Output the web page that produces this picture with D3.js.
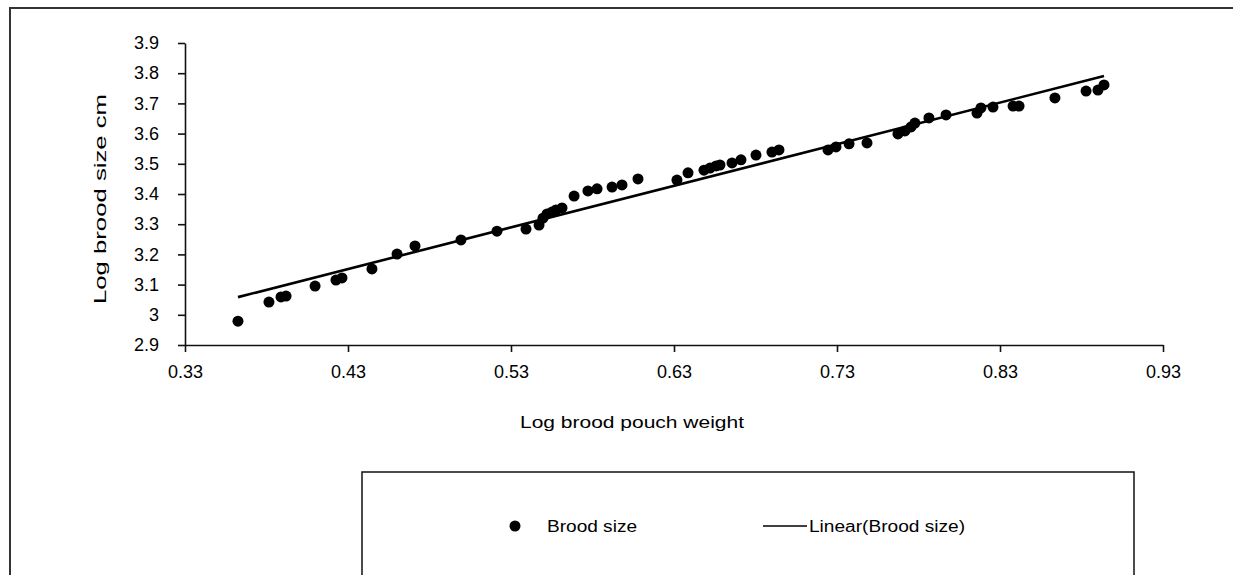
<!DOCTYPE html>
<html>
<head>
<meta charset="utf-8">
<script src="https://cdn.jsdelivr.net/npm/d3@7"></script>
<style>
  html, body { margin: 0; padding: 0; background: #fff; overflow: hidden; }
  svg { display: block; }
  text { font-family: "Liberation Sans", Arial, sans-serif; fill: #000; }
</style>
</head>
<body>
<svg id="chart" width="1233" height="575"></svg>
<script>
// ---- data ----
const xValues = [0.3625, 0.3815, 0.3889, 0.392, 0.4098, 0.4226, 0.4263, 0.4447, 0.4601, 0.4711,
  0.4993, 0.5214, 0.5392, 0.5472, 0.5496, 0.5521, 0.5551, 0.5576, 0.5613, 0.5687,
  0.5772, 0.5828, 0.592, 0.5981, 0.6079, 0.6318, 0.6386, 0.6484, 0.6521, 0.6558,
  0.6582, 0.6656, 0.6711, 0.6803, 0.6901, 0.6944, 0.7245, 0.7294, 0.7374, 0.7484,
  0.7674, 0.7717, 0.7754, 0.7778, 0.7864, 0.7969, 0.8159, 0.8183, 0.8257, 0.838,
  0.8417, 0.8637, 0.8828, 0.8901, 0.8938];
const yValues = [2.979, 3.042, 3.059, 3.062, 3.095, 3.115, 3.122, 3.152, 3.201, 3.228,
  3.248, 3.277, 3.284, 3.297, 3.320, 3.334, 3.340, 3.347, 3.354, 3.393,
  3.410, 3.417, 3.423, 3.430, 3.450, 3.446, 3.470, 3.479, 3.486, 3.493,
  3.496, 3.503, 3.513, 3.529, 3.539, 3.546, 3.546, 3.556, 3.566, 3.569,
  3.599, 3.609, 3.622, 3.635, 3.652, 3.662, 3.668, 3.685, 3.688, 3.691,
  3.691, 3.718, 3.741, 3.744, 3.761];
const trendSlope = 1.378;
const trendIntercept = 2.559;
const xTickValues = [0.33, 0.43, 0.53, 0.63, 0.73, 0.83, 0.93];
const yTickValues = [2.9, 3, 3.1, 3.2, 3.3, 3.4, 3.5, 3.6, 3.7, 3.8, 3.9];
const xTitle = "Log brood pouch weight";
const yTitle = "Log brood size cm";
const seriesName = "Brood size";
const trendName = "Linear(Brood size)";

// ---- layout ----
const svg = d3.select("#chart");
const plot = { left: 185, right: 1163, top: 43, bottom: 345 };

svg.append("rect").attr("x", 0).attr("y", 0).attr("width", 1233).attr("height", 575).attr("fill", "#fff");
// outer chart frame: only left and top edges are inside the picture
svg.append("path").attr("d", "M10,575 V8 H1233")
  .attr("fill", "none").attr("stroke", "#333").attr("stroke-width", 2);

const x = d3.scaleLinear().domain([0.33, 0.93]).range([plot.left, plot.right]);
const y = d3.scaleLinear().domain([2.9, 3.9]).range([plot.bottom, plot.top]);

const xAxis = d3.axisBottom(x).tickValues(xTickValues).tickFormat(d3.format(".2f")).tickSizeInner(7).tickSizeOuter(0).tickPadding(13);
const yAxis = d3.axisLeft(y).tickValues(yTickValues).tickFormat(d => String(+d.toFixed(1))).tickSizeInner(7).tickSizeOuter(0).tickPadding(19);

const gx = svg.append("g").attr("transform", `translate(0,${plot.bottom})`).call(xAxis);
const gy = svg.append("g").attr("transform", `translate(${plot.left},0)`).call(yAxis);
[gx, gy].forEach(g => {
  g.select(".domain").attr("stroke", "#111").attr("stroke-width", 1.6);
  g.selectAll(".tick line").attr("stroke", "#111").attr("stroke-width", 1.6);
  g.selectAll(".tick text").attr("font-size", 18).attr("font-family", "Liberation Sans, Arial, sans-serif").attr("fill", "#222");
});

// trend line
const xr = d3.extent(xValues);
const trend = xr.map(v => [v, trendIntercept + trendSlope * v]);
svg.append("path").datum(trend)
  .attr("d", d3.line().x(d => x(d[0])).y(d => y(d[1])))
  .attr("stroke", "#000").attr("stroke-width", 2.6).attr("fill", "none");

// points
svg.append("g").selectAll("circle").data(xValues.map((v, i) => [v, yValues[i]])).join("circle")
  .attr("cx", d => x(d[0])).attr("cy", d => y(d[1])).attr("r", 5.5).attr("fill", "#000");

// axis titles
svg.append("text").attr("x", 632).attr("y", 428).attr("text-anchor", "middle").attr("fill", "#222")
  .attr("font-size", 17).attr("textLength", 224).attr("lengthAdjust", "spacingAndGlyphs").text(xTitle);
svg.append("text").attr("transform", "translate(106,199) rotate(-90)").attr("text-anchor", "middle").attr("fill", "#222")
  .attr("font-size", 17).attr("textLength", 210).attr("lengthAdjust", "spacingAndGlyphs").text(yTitle);

// legend
svg.append("rect").attr("x", 362).attr("y", 472).attr("width", 772).attr("height", 200)
  .attr("fill", "none").attr("stroke", "#111").attr("stroke-width", 1.5);
svg.append("circle").attr("cx", 515).attr("cy", 526).attr("r", 5.5).attr("fill", "#000");
svg.append("text").attr("x", 547).attr("y", 532).attr("font-size", 16).attr("fill", "#222")
  .attr("textLength", 90).attr("lengthAdjust", "spacingAndGlyphs").text(seriesName);
svg.append("line").attr("x1", 763).attr("x2", 807).attr("y1", 526).attr("y2", 526)
  .attr("stroke", "#000").attr("stroke-width", 1.6);
svg.append("text").attr("x", 809).attr("y", 532).attr("font-size", 16).attr("fill", "#222")
  .attr("textLength", 156).attr("lengthAdjust", "spacingAndGlyphs").text(trendName);
</script>
</body>
</html>
